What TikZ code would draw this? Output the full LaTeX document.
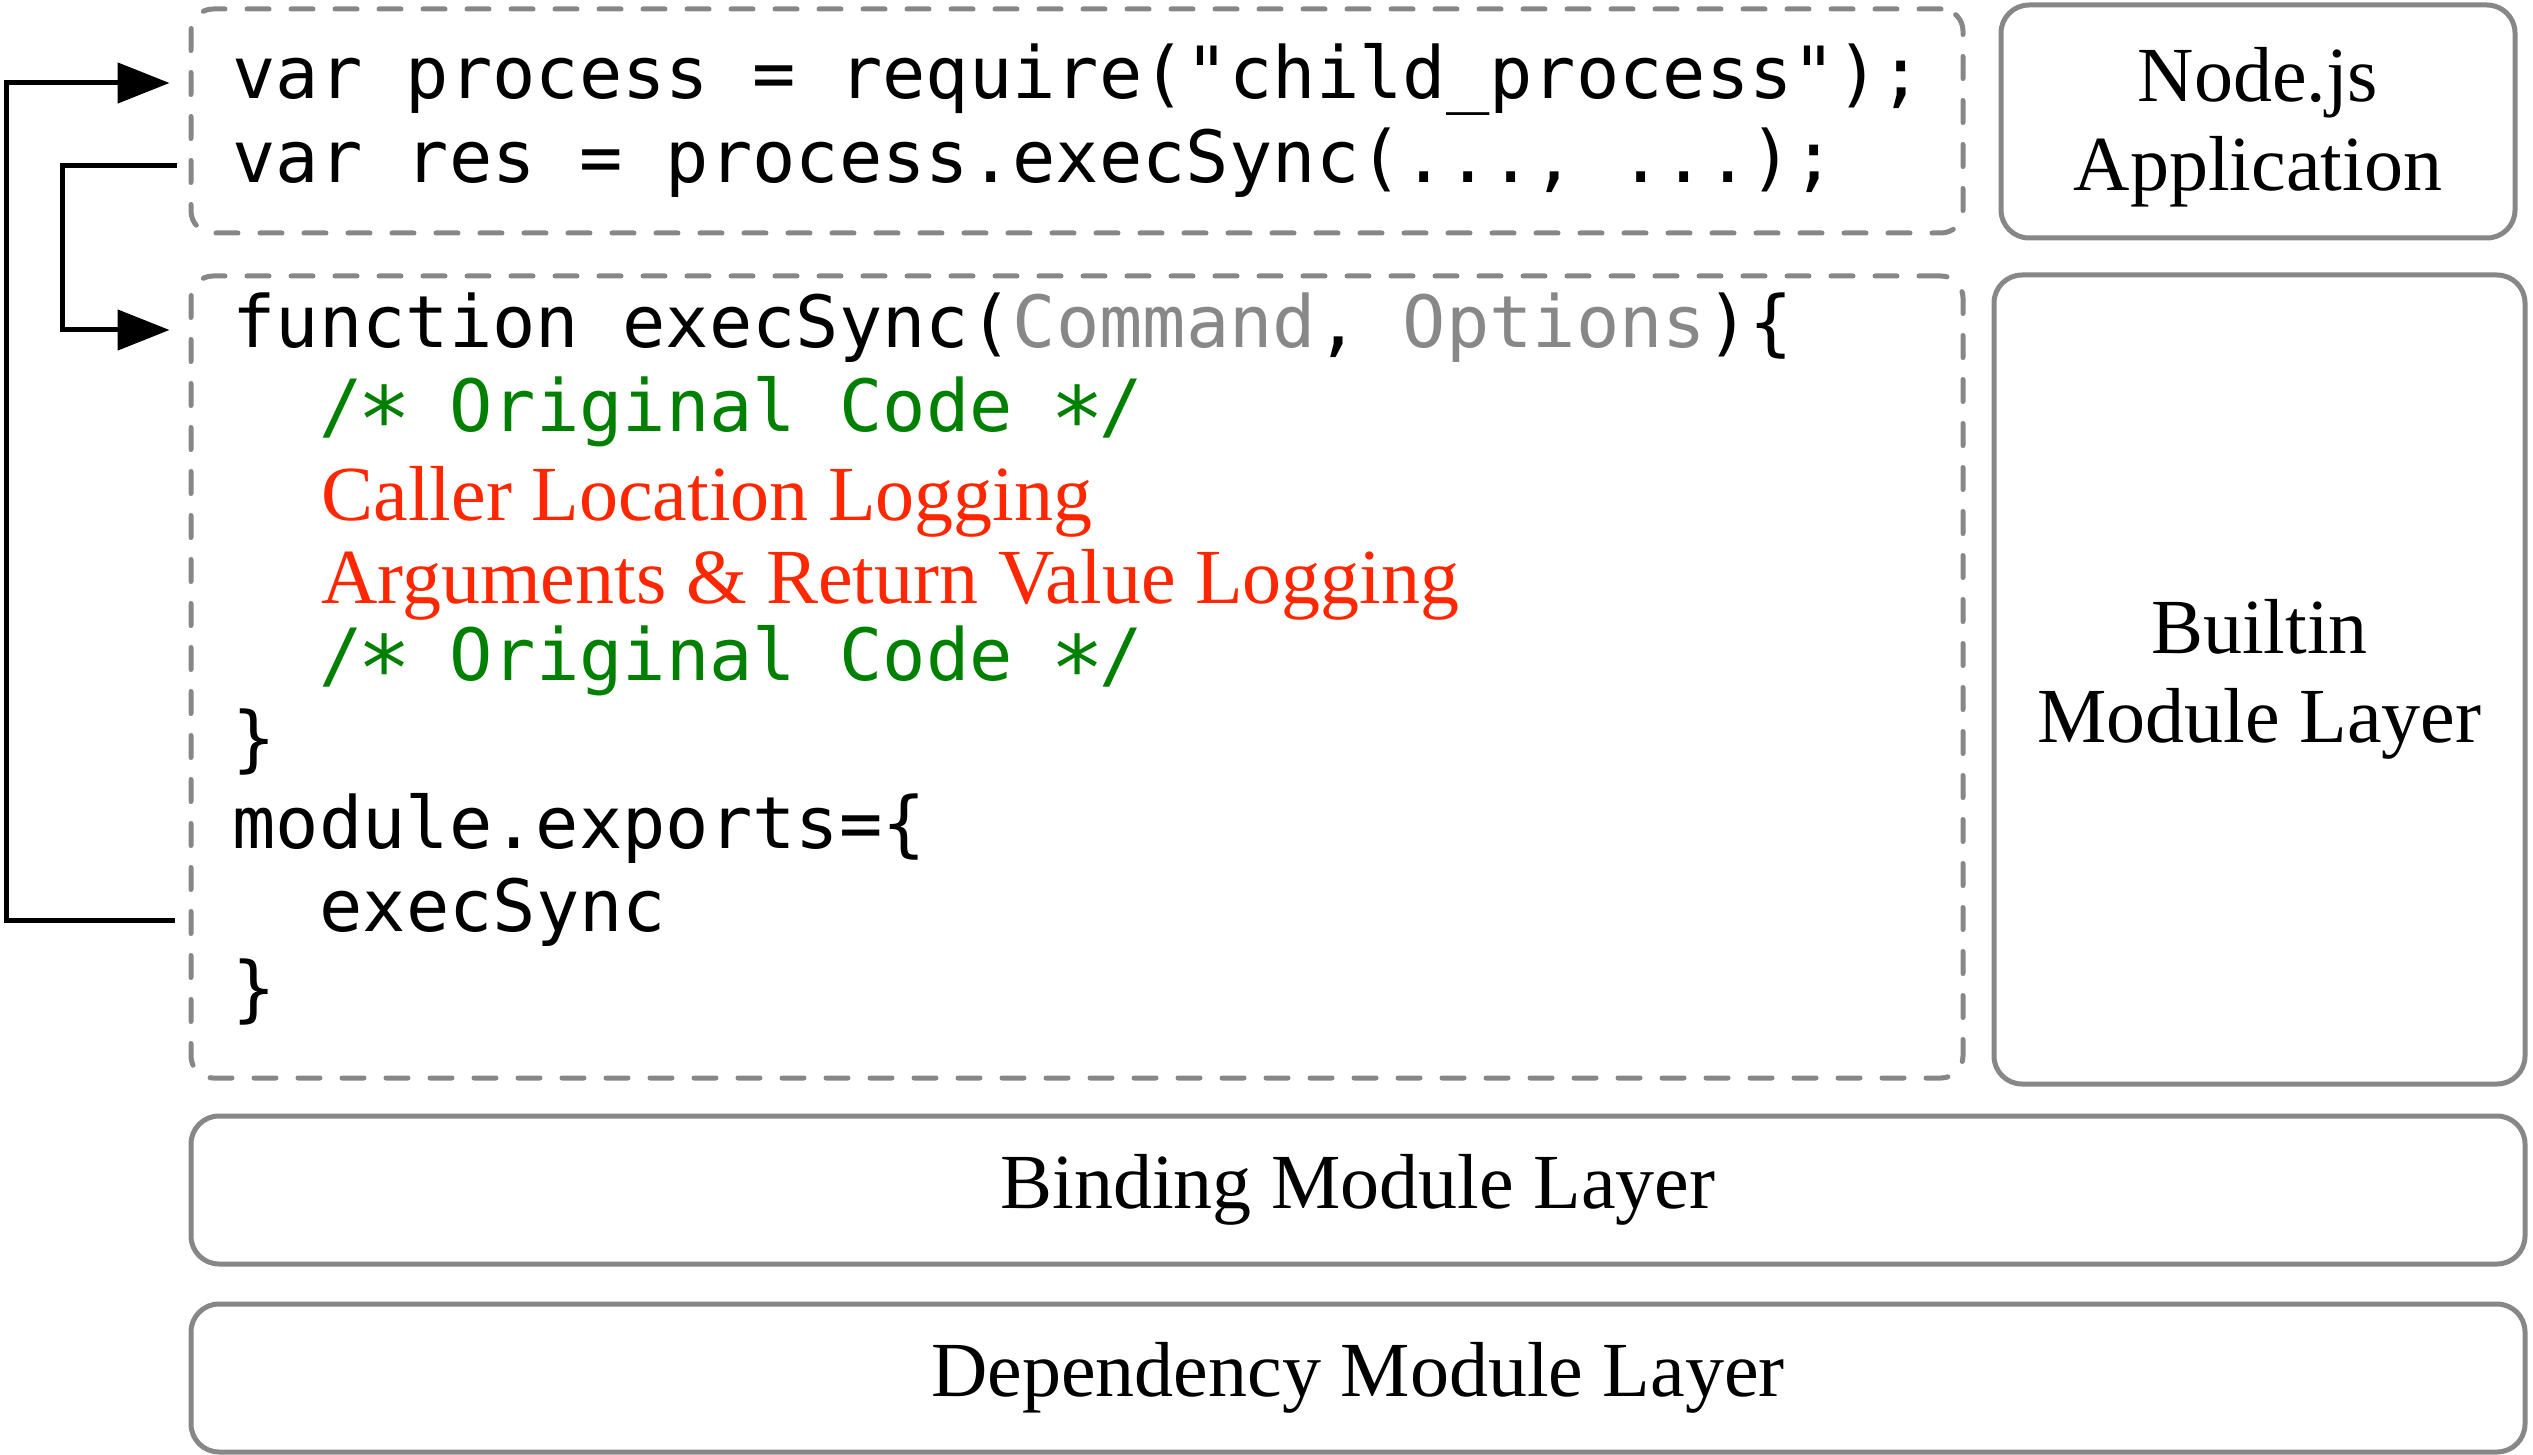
\documentclass[tikz,border=0pt]{standalone}
\usepackage{fontspec}
\usepackage{graphicx}
\setmainfont{Liberation Serif}
\setmonofont{DejaVu Sans Mono}
\usetikzlibrary{arrows.meta,calc}
\definecolor{boxgray}{HTML}{878787}
\definecolor{codegray}{HTML}{888888}
\definecolor{codegreen}{HTML}{008000}
\definecolor{codered}{HTML}{FF2600}
\newcommand\codestar{\makebox[0.6021em][c]{\raisebox{-0.29em}{\scalebox{1.25}{*}}}}
\tikzset{
  dbox/.style={draw=boxgray, line width=2.5pt, dash pattern=on 11pt off 11pt, line cap=round, rounded corners=11pt, inner sep=0pt},
  sbox/.style={draw=boxgray, line width=2.5pt, rounded corners=14pt, inner sep=0pt, align=center, font=\fontsize{39}{44.5}\selectfont},
  lbl/.style={inner sep=0pt, align=center, font=\fontsize{39}{44.5}\selectfont},
  code/.style={font=\ttfamily\fontsize{36}{40}\selectfont, inner sep=0pt, anchor=base west},
  note/.style={font=\fontsize{39}{44.5}\selectfont, text=codered, inner sep=0pt, anchor=base west},
  conn/.style={line width=2.5pt, draw=black},
  arr/.style={conn, -{Triangle[length=26pt,width=20pt]}}
}
\begin{document}
\begin{tikzpicture}[x=0.5pt,y=-0.5pt]
\useasboundingbox (0,0) rectangle (2533,1455);
% boxes
\node[dbox, minimum width=886pt, minimum height=112pt] (box1) at (1077,121) {};
\node[dbox, minimum width=886pt, minimum height=401pt] (box2) at (1077,677) {};
\node[sbox, minimum width=257pt, minimum height=116.5pt] (app) at (2258,121.5) {};
\node[lbl] (applbl) at ($(app.center)+(0,6)$) {Node.js\\Application};
\node[sbox, minimum width=265.5pt, minimum height=404.5pt] (builtin) at (2259.5,679.5) {Builtin\\Module Layer};
\node[sbox, minimum width=1167pt, minimum height=74pt] (binding) at (1358,1190) {Binding Module Layer};
\node[sbox, minimum width=1167pt, minimum height=74pt] (dep) at (1358,1378) {Dependency Module Layer};
% code lines
\node[code] (l1) at (232,99) {var process = require("child\_process");};
\node[code] (l2) at (232,183) {var res = process.execSync(..., ...);};
\node[code] (f1) at (232,348) {function execSync({\color{codegray}Command}, {\color{codegray}Options})\{};
\node[code, text=codegreen] (c1) at (319,431) {/\codestar{} Original Code \codestar/};
\node[note] (r1) at (321,520) {Caller Location Logging};
\node[note] (r2) at (321,603) {Arguments \& Return Value Logging};
\node[code, text=codegreen] (c2) at (319,680) {/\codestar{} Original Code \codestar/};
\node[code] (b1) at (232,763) {\}};
\node[code] (m1) at (232,848) {module.exports=\{};
\node[code] (e1) at (319,931) {execSync};
\node[code] (b2) at (232,1013) {\}};
% connector ends
\coordinate (lane1) at (6,0);
\coordinate (lane2) at (62,0);
\coordinate (s1) at ($(box2.west |- e1.base)+(-14,-11)$);
\coordinate (t1) at ($(box1.west |- l1.base)+(-19,-16)$);
\coordinate (s2) at ($(box1.west |- l2.base)+(-12,-17)$);
\coordinate (t2) at ($(box2.west |- f1.base)+(-19,-18)$);
\draw[arr] (s1) -| (lane1 |- t1) -- (t1);
\draw[arr] (s2) -| (lane2 |- t2) -- (t2);
\end{tikzpicture}
\end{document}
